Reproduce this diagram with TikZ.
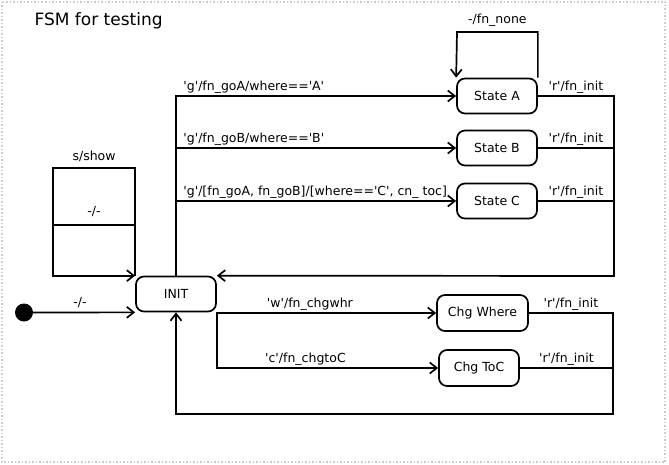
\documentclass[tikz,border=0pt]{standalone}
\usepackage{fontspec}
\setmainfont[Ligatures=TeXOff]{DejaVu Sans}
\usetikzlibrary{arrows.meta,calc}
\begin{document}
\begin{tikzpicture}[x=1pt,y=-1pt,
    state/.style={draw,line width=1.7pt,rounded corners=8pt,minimum width=80pt,minimum height=35pt,inner sep=0pt,font=\fontsize{12.5}{15}\selectfont},
    trans/.style={line width=1.7pt,-{Straight Barb[length=7pt,width=11pt,line width=1.7pt]}},
    wire/.style={line width=1.7pt},
    lbl/.style={font=\fontsize{12.5}{15}\selectfont,inner sep=1pt}]
      \useasboundingbox (0,0) rectangle (669,465);
      \draw[gray!40,dotted,line width=1.5pt](2,2)rectangle(665,462); %frame
      \node[anchor=west,font=\fontsize{17}{20}\selectfont] (title) at (31,21){FSM for testing};
      %states
      \node[fill=black,circle,minimum size=18pt,inner sep=0pt] (start) at (24,312.5){};
      \node[state] (init) at (176,294){INIT};
      \node[state] (sa) at (497,96){State A};
      \node[state] (sb) at (497,148){State B};
      \node[state] (sc) at (497,201){State C};
      \node[state,minimum width=91pt,minimum height=36pt] (cw) at (482.5,313){Chg Where};
      \node[state,minimum height=36pt] (ct) at (479,368){Chg ToC};
      %bend points
      \coordinate (showloop) at (53,168);
      \coordinate (noneloop) at (457,32);
      \coordinate (rback) at (614,276);
      \coordinate (bback) at (613,414);
      %transitions
      \draw[trans](start)--node[lbl,pos=.46,above=3pt]{-/-}(init.south west);
      \draw[trans](init.north west)|-node[lbl,pos=.75,above=4pt]{s/show}(showloop)|-(init.north west); %s/show loop
      \draw[wire](showloop|-0,225)--(init.north west|-0,225)node[lbl,midway,above=6pt]{-/-};
      \draw[trans](init.north)|-node[lbl,pos=.51,anchor=south west,yshift=1pt]{'g'/fn\_goA/where=='A'}(sa.west);
      \draw[trans](init.north)|-node[lbl,pos=.51,anchor=south west,yshift=1pt]{'g'/fn\_goB/where=='B'}(sb.west);
      \draw[trans](init.north)|-node[lbl,pos=.51,anchor=south west,yshift=1pt]{'g'/[fn\_goA, fn\_goB]/[where=='C', cn\_ toc]}(sc.west);
      \draw[trans](sa.north east)|-node[lbl,pos=.75,above=4pt]{-/fn\_none}(noneloop)--(sa.north west); %self loop
      \draw[trans](sa.east)-|node[lbl,pos=.25,above=1pt]{'r'/fn\_init}(rback)--(init.north east);
      \draw[wire](sb.east)--node[lbl,above=1pt]{'r'/fn\_init}(sb.east-|rback);
      \draw[wire](sc.east)--node[lbl,above=1pt]{'r'/fn\_init}(sc.east-|rback);
      \draw[trans](init.south east)|-node[lbl,pos=.61,anchor=south west,yshift=1pt]{'w'/fn\_chgwhr}(cw.west);
      \draw[trans](init.south east)|-node[lbl,pos=.605,anchor=south west,yshift=1pt]{'c'/fn\_chgtoC}(ct.west);
      \draw[trans](cw.east)-|node[lbl,pos=.25,above=1pt]{'r'/fn\_init}(bback)-|(init.south);
      \draw[wire](ct.east)--node[lbl,above=1pt]{'r'/fn\_init}(ct.east-|bback);
    \end{tikzpicture}
\end{document}
